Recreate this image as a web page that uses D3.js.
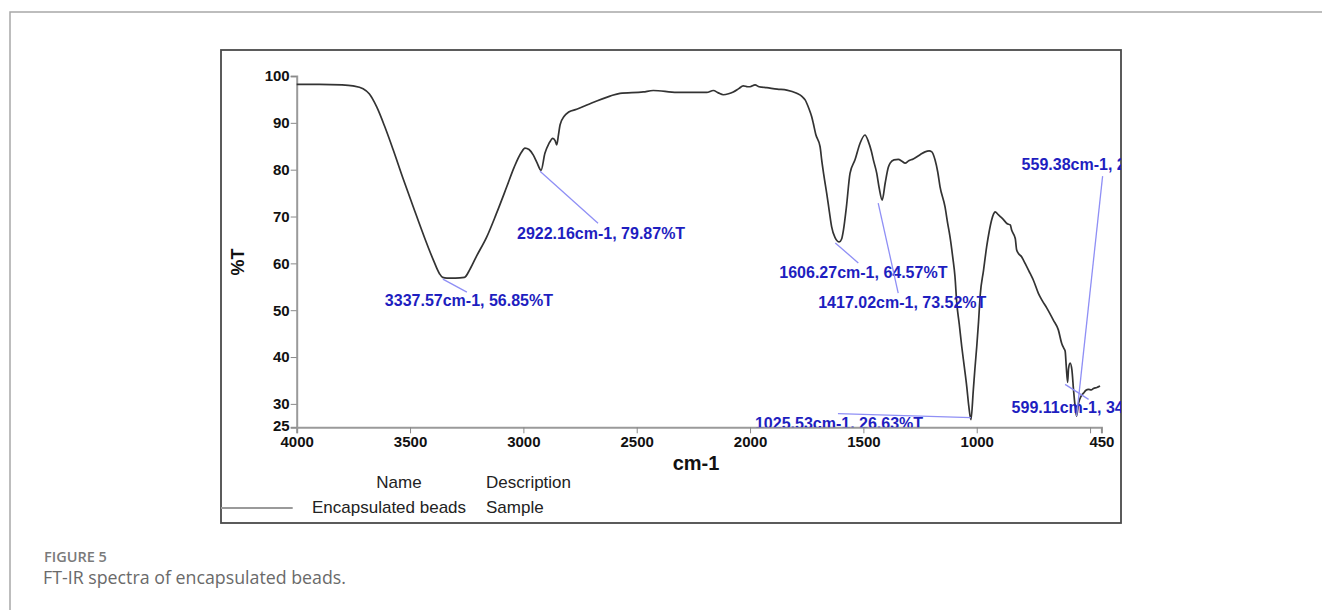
<!DOCTYPE html>
<html>
<head>
<meta charset="utf-8">
<script src="https://cdn.jsdelivr.net/npm/d3@7"></script>
<style>
  body { margin: 0; background: #fff; }
  svg { display: block; }
</style>
</head>
<body>
<script>
// spectrum: wavenumber (cm-1) and transmittance (%T)
var wavenumbers = [4000, 3900, 3800, 3752, 3707, 3680, 3647, 3610, 3574, 3530, 3486, 3440, 3397, 3370, 3356, 3337.57, 3300, 3260, 3235, 3206,
  3162, 3120, 3073, 3040, 3010, 2993, 2975, 2956, 2940, 2922.16, 2905, 2888, 2870, 2860, 2853, 2845, 2838, 2820, 2800, 2765,
  2720, 2618, 2574, 2471, 2427, 2323, 2250, 2191, 2162, 2140, 2118, 2095, 2074, 2050, 2030, 2010, 2000, 1978, 1960, 1926,
  1880, 1838, 1794, 1770, 1757, 1740, 1728, 1721, 1710, 1691, 1684, 1675, 1662, 1650, 1640, 1625, 1606.27, 1596, 1588, 1575,
  1559, 1537, 1515, 1493, 1478, 1465, 1456, 1441, 1430, 1417.02, 1404, 1390, 1382, 1365, 1346, 1330, 1316, 1300, 1280, 1250,
  1228, 1210, 1198, 1184, 1172, 1162, 1140, 1128, 1118, 1105, 1096, 1088, 1077, 1066, 1055, 1044, 1035, 1025.53, 1015, 1008,
  1000, 992, 985, 970, 956, 945, 934, 925, 919, 905, 896, 883, 867, 852, 846, 830, 824, 816, 802, 794,
  765, 750, 728, 713, 690, 662, 640, 625, 615, 610, 605, 599.11, 595, 588, 580, 573, 566, 559.38, 551, 540,
  529, 518, 507, 495, 485, 470, 456];
var transmittance = [98.2, 98.2, 98.1, 97.9, 97.3, 96.2, 93.4, 89.0, 84.2, 78.0, 72.1, 66.0, 60.7, 57.8, 57.0, 56.85, 56.85, 57.0, 58.8, 61.6,
  65.6, 70.5, 76.4, 80.6, 83.6, 84.6, 84.3, 83.1, 81.5, 79.87, 83.5, 85.5, 86.7, 86.2, 85.3, 87.5, 89.6, 91.4, 92.3, 92.9,
  93.8, 95.7, 96.3, 96.6, 96.9, 96.5, 96.5, 96.5, 96.9, 96.4, 96.0, 96.2, 96.6, 97.3, 97.9, 97.7, 97.7, 98.1, 97.7, 97.5,
  97.2, 97.0, 96.3, 95.6, 94.9, 93.0, 91.3, 89.9, 87.5, 84.9, 82.1, 79.0, 75.0, 71.0, 67.8, 65.5, 64.57, 65.2, 67.1, 72.0,
  79.2, 82.1, 85.6, 87.4, 86.0, 84.0, 82.1, 79.2, 76.0, 73.52, 77.1, 80.5, 81.4, 82.1, 82.2, 81.8, 81.4, 81.9, 82.3, 83.2,
  83.8, 84.0, 83.8, 82.1, 79.5, 76.4, 72.1, 68.5, 65.7, 61.0, 57.2, 51.5, 47.0, 42.2, 38.0, 33.7, 29.5, 26.63, 33.0, 37.5,
  42.2, 47.5, 53.0, 58.5, 63.6, 66.8, 69.3, 70.6, 71.0, 70.4, 70.0, 69.4, 68.5, 68.2, 67.1, 65.3, 62.9, 62.1, 61.4, 60.7,
  57.9, 56.4, 53.6, 52.2, 50.4, 47.9, 45.8, 42.9, 41.8, 41.3, 38.0, 34.6, 37.5, 38.7, 37.2, 33.0, 29.5, 27.4, 30.1, 31.6,
  32.3, 32.9, 33.1, 33.0, 33.3, 33.5, 33.8];

// x ticks (500 has a tick but no label), y ticks
var xTicks = [4000, 3500, 3000, 2500, 2000, 1500, 1000, 500, 450];
var yTicks = [25, 30, 40, 50, 60, 70, 80, 90, 100];

// peak labels: marked wavenumber, %T and the text shown (right ones are cut by the frame)
var peakWn = [3337.57, 2922.16, 1606.27, 1417.02, 1025.53, 599.11, 559.38];
var peakT = [56.85, 79.87, 64.57, 73.52, 26.63, 34.6, 27.4];
var peakText = ["3337.57cm-1, 56.85%T", "2922.16cm-1, 79.87%T", "1606.27cm-1, 64.57%T", "1417.02cm-1, 73.52%T",
  "1025.53cm-1, 26.63%T", "599.11cm-1, 34", "559.38cm-1, 2"];

// leader line start/end and text offsets, in px from the peak
var peakLayout = [
  {x1: -4, y1: 1, x2: 20, y2: 14, tx: -62, ty: 28},
  {x1: -1, y1: 1, x2: 57, y2: 53, tx: -24, ty: 69},
  {x1: -4, y1: 1, x2: 19, y2: 21, tx: -60, ty: 36},
  {x1: -4, y1: 3, x2: 16, y2: 93, tx: -64, ty: 108},
  {x1: 0, y1: -2, x2: -133, y2: -6, tx: -216, ty: 9},
  {x1: -2.5, y1: 2, x2: 21, y2: 17, tx: -56, ty: 30.5},
  {x1: 0, y1: 0, x2: 26, y2: -240, tx: -55, ty: -245.6}
];

var legendNames = ["Encapsulated beads"];
var legendDescriptions = ["Sample"];

var W = 1322, H = 610;
var plot = {left: 296.7, right: 1101.4, top: 76, bottom: 427.3};
var frame = {x: 221, y: 50, w: 900, h: 473};
var font = "'Liberation Sans', Arial, sans-serif";

var x = d3.scaleLinear().domain([4000, 450]).range([plot.left, plot.right]);
var y = d3.scaleLinear().domain([25, 100]).range([plot.bottom, plot.top]);

var svg = d3.select("body").append("svg")
    .attr("width", W)
    .attr("height", H);

// page rule lines
svg.append("path")
    .attr("d", "M10," + H + "V12H" + W)
    .attr("fill", "none")
    .attr("stroke", "#a8a8a8")
    .attr("stroke-width", 1.5);

// figure frame
svg.append("rect")
    .attr("x", frame.x).attr("y", frame.y)
    .attr("width", frame.w).attr("height", frame.h)
    .attr("fill", "#fff")
    .attr("stroke", "#4a4a4a")
    .attr("stroke-width", 1.8);

svg.append("clipPath").attr("id", "clip")
  .append("rect")
    .attr("x", frame.x).attr("y", frame.y)
    .attr("width", frame.w).attr("height", plot.bottom - frame.y);

// axes
var xAxis = svg.append("g")
    .attr("transform", "translate(0," + plot.bottom + ")")
    .call(d3.axisBottom(x).tickValues(xTicks).tickSize(6).tickPadding(3)
      .tickFormat(function(d) { return d === 500 ? "" : d; }));

var yAxis = svg.append("g")
    .attr("transform", "translate(" + plot.left + ",0)")
    .call(d3.axisLeft(y).tickValues(yTicks).tickSize(6).tickPadding(1));

[xAxis, yAxis].forEach(function(a) {
  a.select(".domain").attr("stroke", "#9a9a9a").attr("stroke-width", 2);
  a.selectAll(".tick line").attr("stroke", "#8a8a8a").attr("stroke-width", 1);
  a.selectAll(".tick text")
      .attr("fill", "#111")
      .style("font", "bold 15px " + font);
});

// lift the bottom y label a little so it clears "4000"
yAxis.selectAll(".tick text").filter(function(d) { return d === 25; }).attr("dy", "0.2em");

// axis titles
svg.append("text")
    .attr("x", 696).attr("y", 470)
    .attr("text-anchor", "middle")
    .style("font", "bold 20px " + font)
    .attr("fill", "#111")
    .text("cm-1");

svg.append("text")
    .attr("transform", "translate(244,262) rotate(-90)")
    .attr("text-anchor", "middle")
    .style("font", "bold 18px " + font)
    .attr("fill", "#111")
    .text("%T");

// spectrum
var spectrum = wavenumbers.map(function(d, i) { return {wn: d, t: transmittance[i]}; });

var line = d3.line()
    .curve(d3.curveMonotoneX)
    .x(function(d) { return x(d.wn); })
    .y(function(d) { return y(d.t); });

svg.append("path")
    .datum(spectrum)
    .attr("d", line)
    .attr("fill", "none")
    .attr("stroke", "#333")
    .attr("stroke-width", 1.7)
    .attr("stroke-linejoin", "round");

// peak labels
var peaks = svg.append("g").attr("clip-path", "url(#clip)")
  .selectAll("g")
  .data(peakWn.map(function(d, i) { return {wn: d, t: peakT[i], text: peakText[i], p: peakLayout[i]}; }))
  .enter().append("g")
    .attr("transform", function(d) { return "translate(" + x(d.wn) + "," + y(d.t) + ")"; });

peaks.append("line")
    .attr("x1", function(d) { return d.p.x1; })
    .attr("y1", function(d) { return d.p.y1; })
    .attr("x2", function(d) { return d.p.x2; })
    .attr("y2", function(d) { return d.p.y2; })
    .attr("stroke", "#8f8ff5")
    .attr("stroke-width", 1.3);

peaks.append("text")
    .attr("x", function(d) { return d.p.tx; })
    .attr("y", function(d) { return d.p.ty; })
    .attr("fill", "#1e1ec0")
    .style("font", "bold 16px " + font)
    .text(function(d) { return d.text; });

// legend table
svg.append("text")
    .attr("x", 399).attr("y", 488)
    .attr("text-anchor", "middle")
    .style("font", "17px " + font)
    .attr("fill", "#222")
    .text("Name");

svg.append("text")
    .attr("x", 486).attr("y", 488)
    .style("font", "17px " + font)
    .attr("fill", "#222")
    .text("Description");

var legendRow = svg.selectAll(".legend-row")
    .data(legendNames)
  .enter().append("g")
    .attr("class", "legend-row")
    .attr("transform", function(d, i) { return "translate(0," + (513 + i * 26) + ")"; });

legendRow.append("line")
    .attr("x1", frame.x).attr("x2", 292.7)
    .attr("y1", -5).attr("y2", -5)
    .attr("stroke", "#9a9a9a")
    .attr("stroke-width", 2);

legendRow.append("text")
    .attr("x", 312)
    .style("font", "17px " + font)
    .attr("fill", "#222")
    .text(function(d) { return d; });

legendRow.append("text")
    .attr("x", 486)
    .style("font", "17px " + font)
    .attr("fill", "#222")
    .text(function(d, i) { return legendDescriptions[i]; });

// caption
svg.append("text")
    .attr("x", 44).attr("y", 561.5)
    .style("font", "600 14.5px 'Open Sans', sans-serif")
    .attr("fill", "#7a7a7a")
    .text("FIGURE 5");

svg.append("text")
    .attr("x", 43).attr("y", 583.5)
    .style("font", "17.8px 'Open Sans', sans-serif")
    .attr("fill", "#6a6a6a")
    .text("FT-IR spectra of encapsulated beads.");
</script>
</body>
</html>
